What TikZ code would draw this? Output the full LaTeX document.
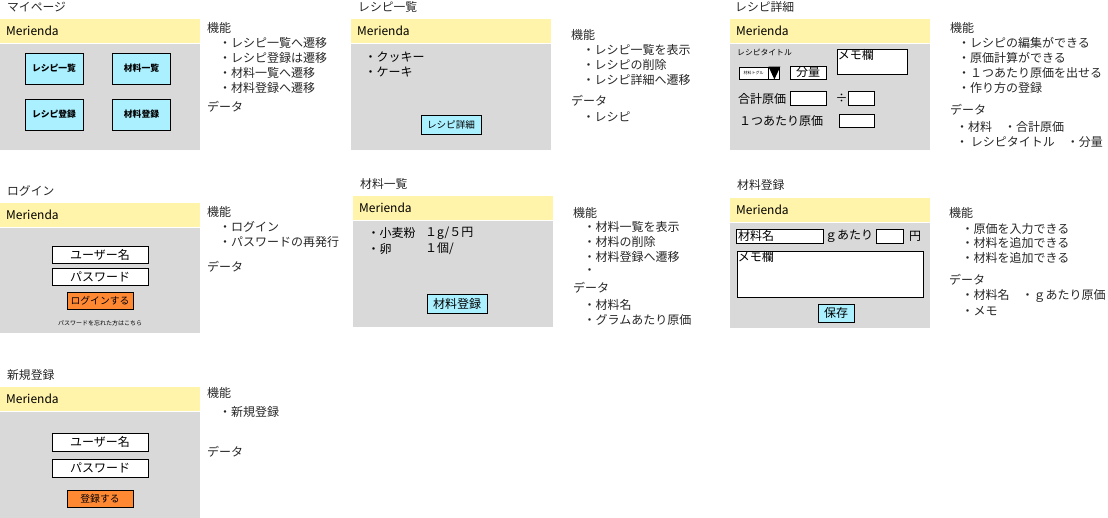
\documentclass[tikz,border=0pt]{standalone}
\usepackage{fontspec}
\setmainfont{Noto Sans CJK JP}
\usetikzlibrary{positioning}
\definecolor{hdryellow}{HTML}{FFF4AA}
\definecolor{bodygray}{HTML}{D9D9D9}
\definecolor{btncyan}{HTML}{AAF0FF}
\definecolor{btnorange}{HTML}{FF8833}
\tikzset{title/.style={anchor=west,inner sep=0pt,text=black!85,font=\fontsize{11.8}{13}\selectfont},
    header/.style={anchor=north west,fill=hdryellow,minimum width=200pt,minimum height=24pt,inner sep=0pt},
    body/.style={anchor=north west,fill=bodygray,minimum width=200pt,inner sep=0pt},
    brand/.style={anchor=west,inner sep=0pt,font=\fontsize{12}{14}\selectfont},
    sidetext/.style={anchor=west,inner sep=0pt,text=black!85,font=\fontsize{12}{14}\selectfont},
    bodytext/.style={anchor=west,inner sep=0pt,font=\fontsize{12}{14}\selectfont},
    inputbox/.style={draw=black,fill=white,line width=0.9pt,inner sep=0pt,font=\fontsize{12}{14}\selectfont},
    menubtn/.style={draw=black,fill=btncyan,line width=0.9pt,minimum width=58pt,minimum height=31pt,inner sep=0pt,font=\bfseries\fontsize{8.8}{10}\selectfont},
    linkbtn/.style={draw=black,fill=btncyan,line width=0.9pt,minimum width=60pt,minimum height=19pt,inner sep=0pt},
    actbtn/.style={draw=black,fill=btnorange,line width=0.9pt,minimum width=66pt,minimum height=17pt,inner sep=0pt,font=\fontsize{9.8}{11}\selectfont},
    }
\begin{document}
\begin{tikzpicture}[x=1pt,y=-1pt]
\useasboundingbox (0,0) rectangle (1108,517);
% マイページ
\node[title] (mypage-title) at (7,7) {マイページ};
\node[header] (mypage-head) at (0,19) {};
\node[brand,right=6pt of mypage-head.west] (mypage-brand) {Merienda};
\node[body,minimum height=106pt,below=0pt of mypage-head] (mypage-body) {};
\node[menubtn] (mypage-rlist) at (54,68.5) {レシピ一覧};
\node[menubtn] (mypage-mlist) at (141.5,68.5) {材料一覧};
\node[menubtn] (mypage-rnew) at (54,114.5) {レシピ登録};
\node[menubtn] (mypage-mnew) at (141.5,114.5) {材料登録};
\node[sidetext] (mypage-kinou) at (207,28) {機能};
\foreach \t [count=\i] in {レシピ一覧へ遷移,レシピ登録は遷移,材料一覧へ遷移,材料登録へ遷移}
    \node[sidetext] (mypage-f\i) at (219,28+15*\i) {・\t};
\node[sidetext] (mypage-data) at (207,107) {データ};
% レシピ一覧
\node[title] (rlist-title) at (358,7) {レシピ一覧};
\node[header] (rlist-head) at (351,19) {};
\node[brand,right=6pt of rlist-head.west] (rlist-brand) {Merienda};
\node[body,minimum height=106pt,below=0pt of rlist-head] (rlist-body) {};
\node[bodytext] (rlist-i1) at (364.5,57) {・クッキー};
\node[bodytext] (rlist-i2) at (364.5,72) {・ケーキ};
\node[linkbtn,font=\fontsize{9.6}{11}\selectfont] (rlist-btn) at (451,124.5) {レシピ詳細};
\node[sidetext] (rlist-kinou) at (571,35) {機能};
\foreach \t [count=\i] in {レシピ一覧を表示,レシピの削除,レシピ詳細へ遷移}
    \node[sidetext] (rlist-f\i) at (582.5,35+15*\i) {・\t};
\node[sidetext] (rlist-data) at (571,101) {データ};
\node[sidetext] (rlist-d1) at (582.5,117) {・レシピ};
% レシピ詳細
\node[title] (rdet-title) at (735,7) {レシピ詳細};
\node[header] (rdet-head) at (730,19) {};
\node[brand,right=6pt of rdet-head.west] (rdet-brand) {Merienda};
\node[body,minimum height=106pt,below=0pt of rdet-head] (rdet-body) {};
\node[anchor=west,inner sep=0pt,font=\fontsize{7.8}{9}\selectfont] (rdet-rtitle) at (737,52) {レシピタイトル};
\node[inputbox,minimum width=29pt,minimum height=12pt,font=\fontsize{4}{5}\selectfont] (rdet-dd) at (753.5,73) {材料トグル};
\node[inputbox,minimum width=11pt,minimum height=12pt,right=0pt of rdet-dd] (rdet-ddarrow) {};
\fill (rdet-ddarrow.north west) -- (rdet-ddarrow.north east) -- (rdet-ddarrow.south) -- cycle;
\node[inputbox,minimum width=36pt,minimum height=13pt] (rdet-qty) at (808,72.5) {分量};
\node[inputbox,minimum width=70pt,minimum height=25pt] (rdet-memo) at (872,61.5) {};
\node[anchor=north west,inner sep=1pt,font=\fontsize{12}{14}\selectfont] (rdet-memotext) at (rdet-memo.north west) {メモ欄};
\node[bodytext] (rdet-total) at (738,98.5) {合計原価};
\node[inputbox,minimum width=36pt,minimum height=14pt] (rdet-totalbox) at (808,98) {};
\node[bodytext] (rdet-div) at (835.5,98.5) {÷};
\node[inputbox,minimum width=26pt,minimum height=14pt] (rdet-divbox) at (861,98) {};
\node[bodytext] (rdet-unit) at (739,121) {１つあたり原価};
\node[inputbox,minimum width=35pt,minimum height=13pt] (rdet-unitbox) at (856.5,120.5) {};
\node[sidetext] (rdet-kinou) at (950,28) {機能};
\foreach \t [count=\i] in {レシピの編集ができる,原価計算ができる,１つあたり原価を出せる,作り方の登録}
    \node[sidetext] (rdet-f\i) at (958,28+15*\i) {・\t};
\node[sidetext] (rdet-data) at (950,110) {データ};
\node[sidetext] (rdet-d1) at (956,127) {・材料　・合計原価};
\node[sidetext] (rdet-d2) at (956,142) {・ レシピタイトル　・分量};
% ログイン
\node[title] (login-title) at (7,191) {ログイン};
\node[header] (login-head) at (0,203) {};
\node[brand,right=6pt of login-head.west] (login-brand) {Merienda};
\node[body,minimum height=105pt,below=0pt of login-head] (login-body) {};
\node[inputbox,minimum width=96pt,minimum height=17pt] (login-user) at (100,254.5) {ユーザー名};
\node[inputbox,minimum width=96pt,minimum height=17pt] (login-pass) at (100,276.5) {パスワード};
\node[actbtn] (login-btn) at (100,300.5) {ログインする};
\node[inner sep=0pt,font=\fontsize{6}{7}\selectfont] (login-forgot) at (100,323) {パスワードを忘れた方はこちら};
\node[sidetext] (login-kinou) at (207,212) {機能};
\foreach \t [count=\i] in {ログイン,パスワードの再発行}
    \node[sidetext] (login-f\i) at (219,212+15*\i) {・\t};
\node[sidetext] (login-data) at (207,267) {データ};
% 材料一覧
\node[title] (mlist-title) at (360,184) {材料一覧};
\node[header] (mlist-head) at (353,196) {};
\node[brand,right=6pt of mlist-head.west] (mlist-brand) {Merienda};
\node[body,minimum height=106pt,below=0pt of mlist-head] (mlist-body) {};
\node[bodytext] (mlist-i1) at (367.5,233) {・小麦粉};
\node[bodytext] (mlist-p1) at (425,233) {１g/５円};
\node[bodytext] (mlist-i2) at (367.5,249) {・卵};
\node[bodytext] (mlist-p2) at (425,249) {１個/};
\node[linkbtn,font=\fontsize{12}{14}\selectfont] (mlist-btn) at (457,303.5) {材料登録};
\node[sidetext] (mlist-kinou) at (573,213) {機能};
\foreach \t [count=\i] in {材料一覧を表示,材料の削除,材料登録へ遷移,{}}
    \node[sidetext] (mlist-f\i) at (583.5,212+15*\i) {・\t};
\node[sidetext] (mlist-data) at (573,288) {データ};
\node[sidetext] (mlist-d1) at (583.5,305) {・材料名};
\node[sidetext] (mlist-d2) at (583.5,320) {・グラムあたり原価};
% 材料登録
\node[title] (mnew-title) at (737,185) {材料登録};
\node[header] (mnew-head) at (730,198) {};
\node[brand,right=6pt of mnew-head.west] (mnew-brand) {Merienda};
\node[body,minimum height=105pt,below=0pt of mnew-head] (mnew-body) {};
\node[inputbox,minimum width=87pt,minimum height=14pt] (mnew-name) at (779.5,236) {};
\node[bodytext] (mnew-nametext) at (738,236) {材料名};
\node[bodytext] (mnew-per) at (825,236) {ｇあたり};
\node[inputbox,minimum width=27pt,minimum height=14pt] (mnew-price) at (889.5,236) {};
\node[bodytext] (mnew-yen) at (909,236) {円};
\node[inputbox,minimum width=186pt,minimum height=46pt] (mnew-memo) at (830,274) {};
\node[anchor=north west,inner sep=1pt,font=\fontsize{12}{14}\selectfont] (mnew-memotext) at (mnew-memo.north west) {メモ欄};
\node[linkbtn,minimum width=36pt,minimum height=18pt,font=\fontsize{12}{14}\selectfont] (mnew-save) at (836,313) {保存};
\node[sidetext] (mnew-kinou) at (949,213) {機能};
\foreach \t [count=\i] in {原価を入力できる,材料を追加できる,材料を追加できる}
    \node[sidetext] (mnew-f\i) at (961.5,214+14.5*\i) {・\t};
\node[sidetext] (mnew-data) at (949,280) {データ};
\node[sidetext] (mnew-d1) at (961.5,296) {・材料名　・ｇあたり原価};
\node[sidetext] (mnew-d2) at (961.5,311) {・メモ};
% 新規登録
\node[title] (signup-title) at (7,375) {新規登録};
\node[header] (signup-head) at (0,387) {};
\node[brand,right=6pt of signup-head.west] (signup-brand) {Merienda};
\node[body,minimum height=106pt,below=0pt of signup-head] (signup-body) {};
\node[inputbox,minimum width=96pt,minimum height=18pt] (signup-user) at (100,442) {ユーザー名};
\node[inputbox,minimum width=96pt,minimum height=18pt] (signup-pass) at (100,468) {パスワード};
\node[actbtn] (signup-btn) at (100,498.5) {登録する};
\node[sidetext] (signup-kinou) at (207,393) {機能};
\node[sidetext] (signup-f1) at (219,412) {・新規登録};
\node[sidetext] (signup-data) at (207,452) {データ};
\end{tikzpicture}
\end{document}
